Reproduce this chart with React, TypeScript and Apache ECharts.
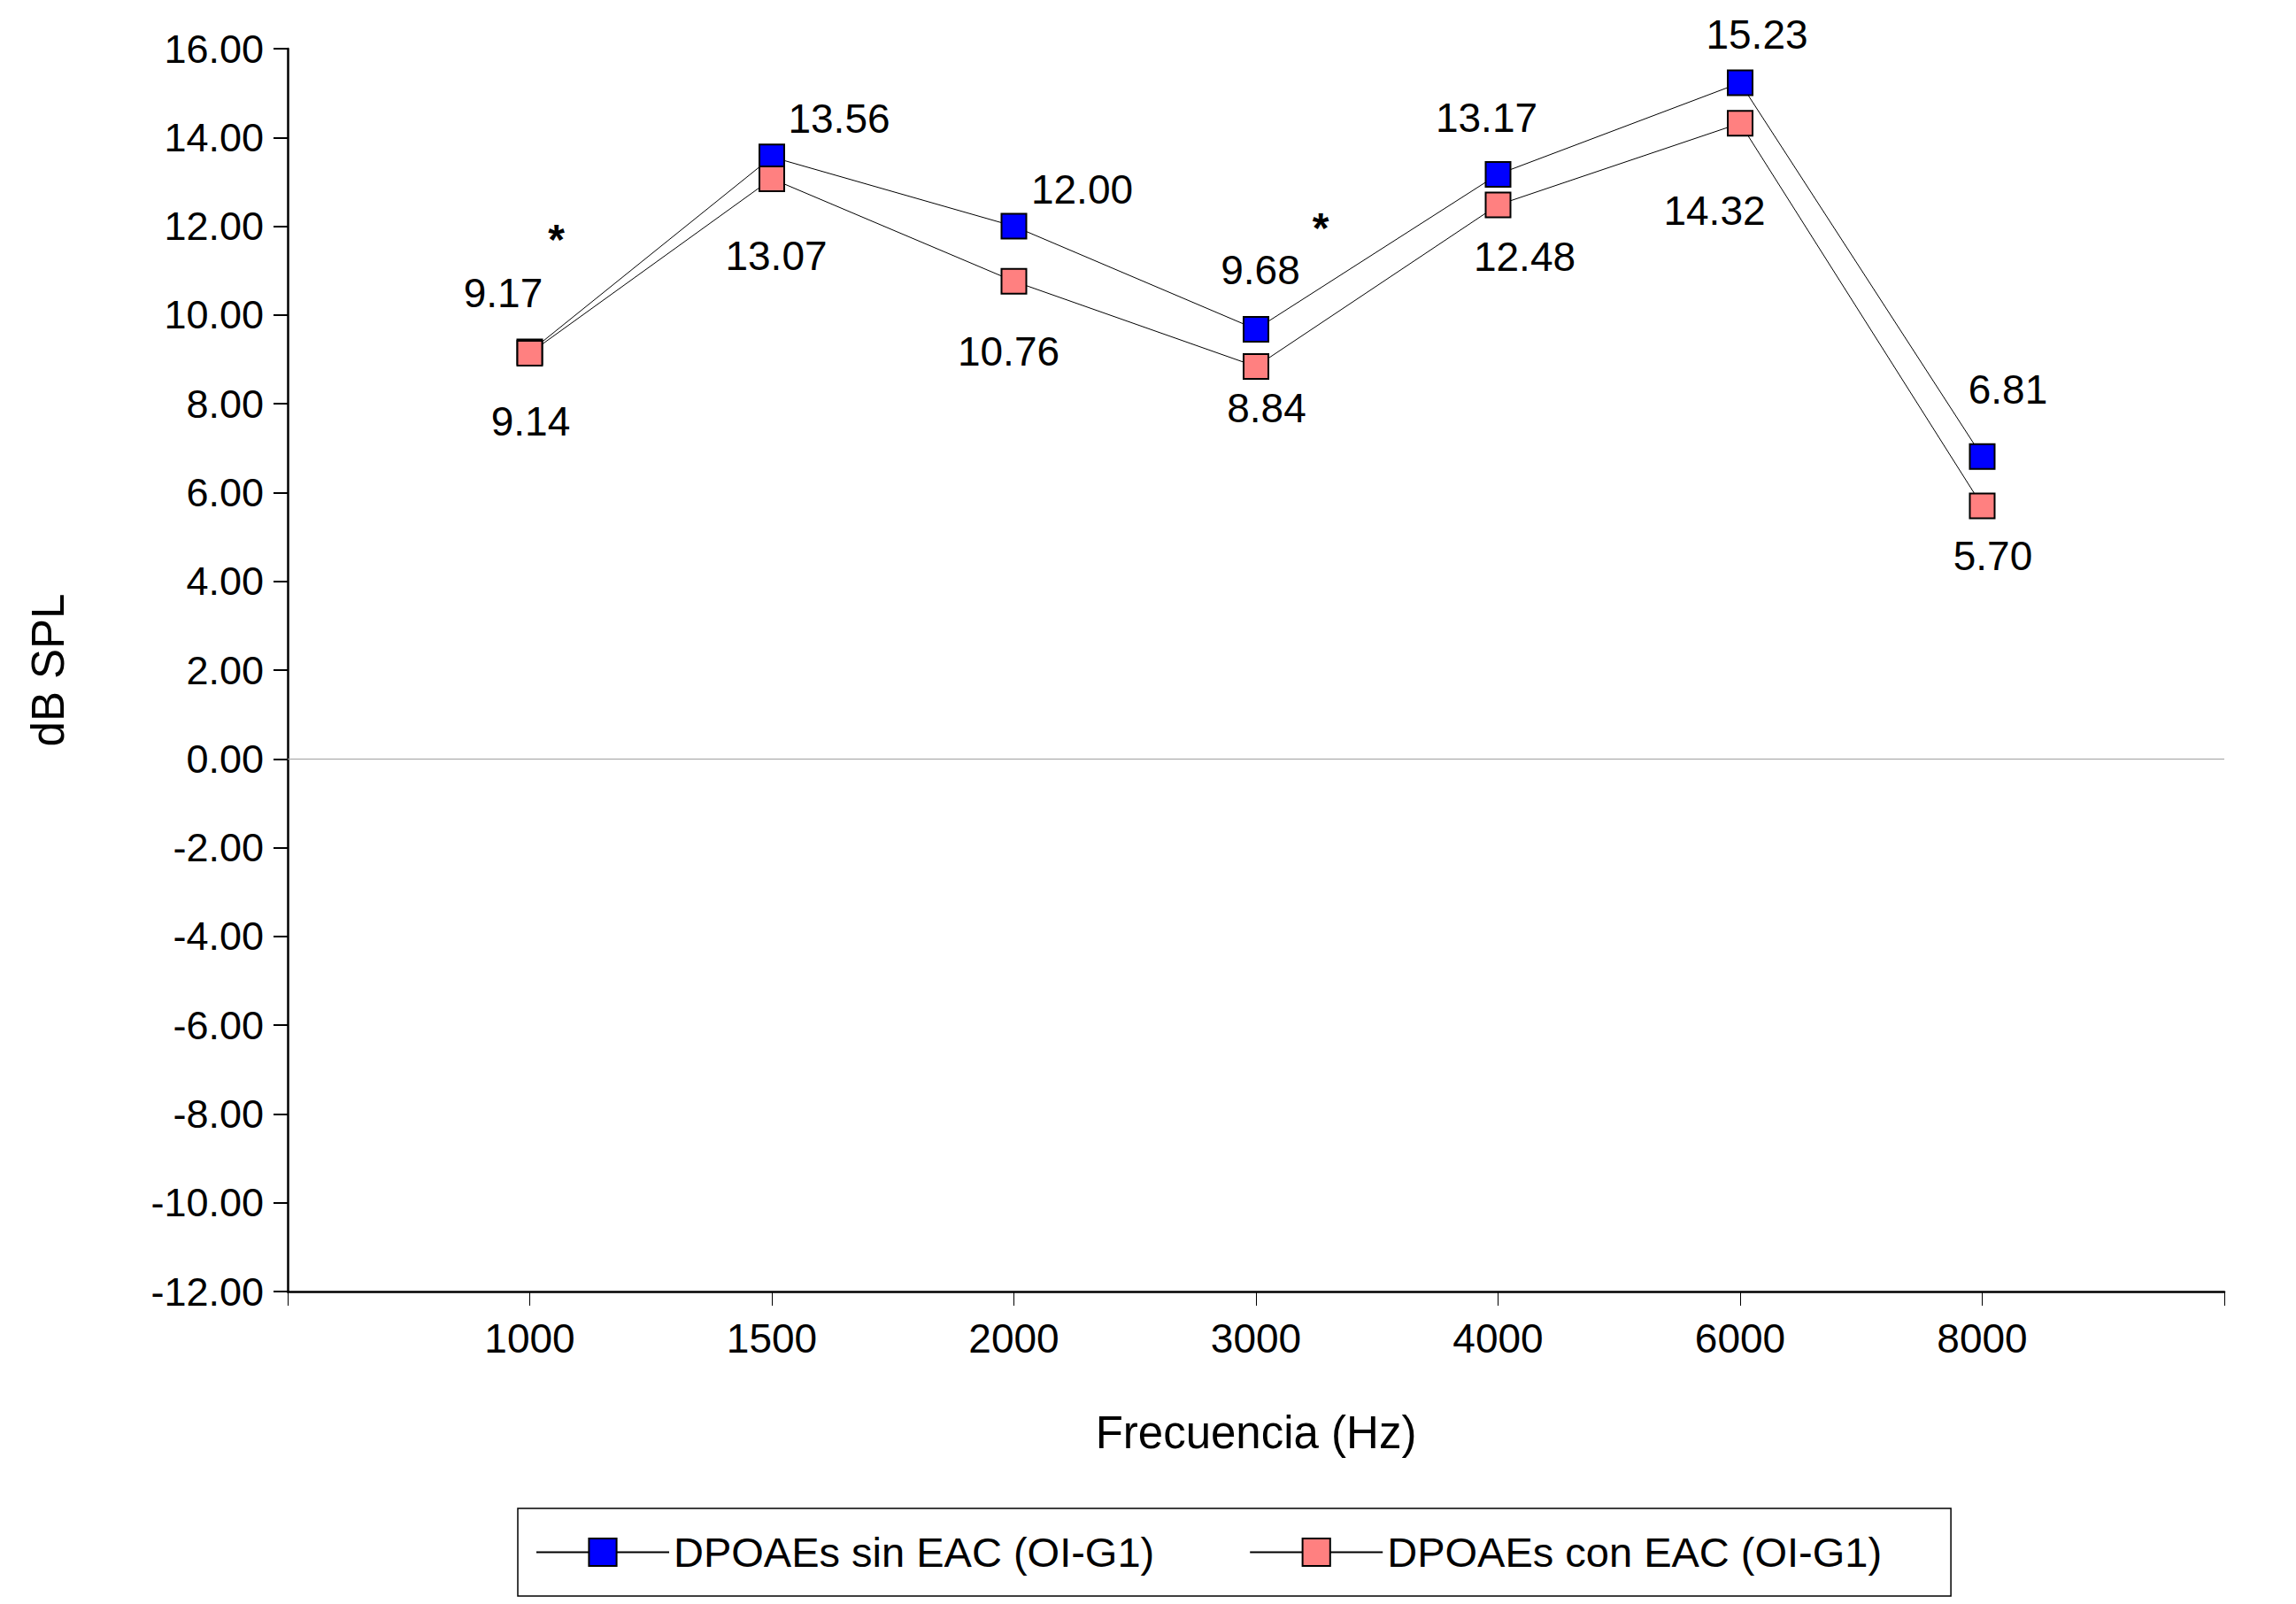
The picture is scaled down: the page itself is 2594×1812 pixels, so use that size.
import React, { useEffect, useRef } from "react";
import * as echarts from "echarts";

const frequencies = ["1000", "1500", "2000", "3000", "4000", "6000", "8000"];
const sinEAC = [9.17, 13.56, 12.0, 9.68, 13.17, 15.23, 6.81];
const conEAC = [9.14, 13.07, 10.76, 8.84, 12.48, 14.32, 5.7];
const seriesNames = ["DPOAEs sin EAC (OI-G1)", "DPOAEs con EAC (OI-G1)"];
const yTicks = { min: -12, max: 16, interval: 2 };

// label placement (pixel offsets from each marker)
const sinLabelOffsets = [[-30, -66], [76, -43], [77, -42], [5, -67], [-13, -64], [19, -55], [29, -76]];
const conLabelOffsets = [[1, 77], [5, 87], [-6, 79], [12, 47], [30, 58], [-29, 99], [12, 57]];

// significance marks: category, y value, pixel dx
const asteriskCats = ["1000", "3000"];
const asteriskValues = [11.7, 11.96];
const asteriskDx = [30, 73];

const FONT = "'Liberation Sans', Arial, sans-serif";

export default function App() {
  const ref = useRef<HTMLDivElement>(null);
  useEffect(() => {
    if (!ref.current) return;
    const chart = echarts.init(ref.current, null, { renderer: "svg" });
    const cats = ["", ...frequencies, ""];
    const build = (vals: number[], offs: number[][]) => [
      null,
      ...vals.map((v, i) => ({
        value: v,
        label: { offset: offs[i] },
      })),
      null,
    ];
    const labelBase = {
      show: true,
      position: "inside" as const,
      color: "#000",
      fontSize: 46,
      fontFamily: FONT,
      formatter: (p: any) => Number(p.value).toFixed(2),
    };
    chart.setOption({
      animation: false,
      backgroundColor: "#fff",
      grid: { left: 325, right: 81, top: 55, bottom: 353, containLabel: false },
      legend: {
        data: seriesNames,
        left: 585,
        top: 1704,
        orient: "horizontal",
        itemWidth: 150,
        itemHeight: 39,
        itemGap: 107,
        padding: [26, 78, 26, 20],
        borderColor: "#000",
        borderWidth: 1.5,
        textStyle: { fontSize: 47, color: "#000", fontFamily: FONT },
      },
      xAxis: {
        type: "category",
        data: cats,
        boundaryGap: false,
        name: "Frecuencia (Hz)",
        nameLocation: "middle",
        nameGap: 134,
        nameTextStyle: { fontSize: 51, color: "#000", fontFamily: FONT },
        axisLine: { show: true, onZero: false, lineStyle: { color: "#000", width: 2.5 } },
        axisTick: { show: true, length: 16, lineStyle: { color: "#000", width: 1 } },
        axisLabel: { interval: 0, fontSize: 46, color: "#000", fontFamily: FONT, margin: 30 },
        splitLine: { show: false },
      },
      yAxis: {
        type: "value",
        min: yTicks.min,
        max: yTicks.max,
        interval: yTicks.interval,
        name: "dB SPL",
        nameLocation: "middle",
        nameGap: 245,
        nameRotate: 90,
        nameTextStyle: { fontSize: 51, color: "#000", fontFamily: FONT },
        axisLine: { show: true, onZero: false, lineStyle: { color: "#000", width: 2.5 } },
        axisTick: { show: true, length: 16, lineStyle: { color: "#000", width: 2 } },
        axisLabel: {
          fontSize: 45,
          color: "#000",
          fontFamily: FONT,
          margin: 27,
          formatter: (v: number) => v.toFixed(2),
        },
        splitLine: { show: false },
      },
      series: [
        {
          name: seriesNames[0],
          type: "line",
          data: build(sinEAC, sinLabelOffsets),
          symbol: "rect",
          symbolSize: 28,
          lineStyle: { color: "#000", width: 1 },
          itemStyle: { color: "#0000ff", borderColor: "#000", borderWidth: 2 },
          label: labelBase,
          emphasis: { disabled: true },
          markLine: {
            silent: true,
            symbol: "none",
            label: { show: false },
            lineStyle: { color: "#a0a0a0", width: 1, type: "solid" },
            data: [{ yAxis: 0 }],
          },
        },
        {
          name: seriesNames[1],
          type: "line",
          data: build(conEAC, conLabelOffsets),
          symbol: "rect",
          symbolSize: 28,
          lineStyle: { color: "#000", width: 1 },
          itemStyle: { color: "#ff8080", borderColor: "#000", borderWidth: 2 },
          label: labelBase,
          emphasis: { disabled: true },
          markPoint: {
            silent: true,
            symbol: "rect",
            symbolSize: 1,
            itemStyle: { color: "rgba(0,0,0,0)" },
            data: asteriskCats.map((c, i) => ({
              coord: [c, asteriskValues[i]],
              label: {
                show: true,
                position: "inside",
                formatter: "*",
                fontSize: 48,
                fontWeight: "bold",
                color: "#000",
                fontFamily: FONT,
                offset: [asteriskDx[i], 0],
              },
            })),
          },
        },
      ],
    });
    return () => chart.dispose();
  }, []);
  return (
    <div
      ref={ref}
      style={{ position: "absolute", left: 0, top: 0, width: 2594, height: 1812, background: "#fff" }}
    />
  );
}
